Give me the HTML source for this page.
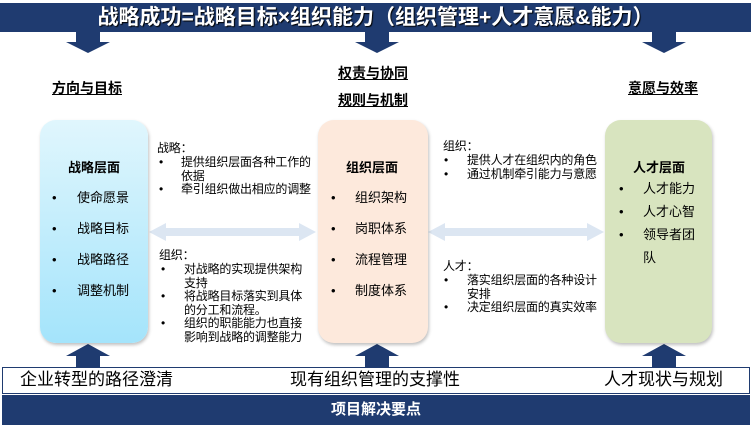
<!DOCTYPE html>
<html><head><meta charset="utf-8"><style>
body{margin:0;width:754px;height:429px;background:#fff;position:relative;overflow:hidden;font-family:"Liberation Sans","Noto Sans CJK SC",sans-serif;color:#000}
.a{position:absolute;white-space:nowrap}
.box{position:absolute;top:120px;height:223px;border-radius:16px;box-shadow:1px 2px 3px rgba(0,0,0,.25)}
.t{font-size:12px;line-height:13.5px;letter-spacing:-0.2px}
.b{font-size:13px}
.u{font-weight:bold;text-decoration:underline;font-size:14px}
</style></head><body>
<div class="a" style="left:0;top:3px;width:751px;height:29px;background:#1f3b70;color:#fff;font-weight:bold;font-size:21px;line-height:29px;text-align:center;text-shadow:1px 1px 1px #000">战略成功=战略目标×组织能力（组织管理+人才意愿&amp;能力）</div>
<svg class="a" style="left:0;top:0" width="754" height="429">
<g fill="#1f3b70">
<polygon points="76,32 100,32 100,42 110,42 88,53 66,42 76,42"/>
<polygon points="365,32 389,32 389,42 399,42 377,53 355,42 365,42"/>
<polygon points="652,32 676,32 676,42 686,42 664,53 642,42 652,42"/>
<polygon points="76,367 100,367 100,356 110,356 88,344 66,356 76,356"/>
<polygon points="365,367 389,367 389,356 399,356 377,344 355,356 365,356"/>
<polygon points="652,367 676,367 676,356 686,356 664,344 642,356 652,356"/>
</g>
<g fill="#dce6f2">
<polygon points="149,232 166,223 166,228 299,228 299,223 316,232 299,241 299,236 166,236 166,241"/>
<polygon points="428,232 445,223 445,228 587,228 587,223 604,232 587,241 587,236 445,236 445,241"/>
</g>
</svg>
<div class="a u" style="left:52px;top:78px">方向与目标</div>
<div class="a u" style="left:338px;top:63px">权责与协同</div>
<div class="a u" style="left:338px;top:90px">规则与机制</div>
<div class="a u" style="left:628px;top:78px">意愿与效率</div>

<div class="box" style="left:40px;width:108px;background:linear-gradient(#e0f6fd,#a4e4fb)"></div>
<div class="box" style="left:318px;width:110px;background:#fde9dc"></div>
<div class="box" style="left:605px;width:107px;background:#d8e4bf"></div>

<div class="a b" style="left:68px;top:157px;font-weight:bold">战略层面</div>
<div class="a b" style="left:52px;top:182px;line-height:31px">•<br>•<br>•<br>•</div>
<div class="a b" style="left:77px;top:182px;line-height:31px">使命愿景<br>战略目标<br>战略路径<br>调整机制</div>

<div class="a b" style="left:346px;top:157px;font-weight:bold">组织层面</div>
<div class="a b" style="left:331px;top:182px;line-height:31px">•<br>•<br>•<br>•</div>
<div class="a b" style="left:355px;top:182px;line-height:31px">组织架构<br>岗职体系<br>流程管理<br>制度体系</div>

<div class="a b" style="left:633px;top:157px;font-weight:bold">人才层面</div>
<div class="a b" style="left:619px;top:177px;line-height:23px">•<br>•<br>•</div>
<div class="a b" style="left:643px;top:177px;line-height:23px">人才能力<br>人才心智<br>领导者团<br>队</div>

<div class="a t" style="left:157px;top:142px">战略：</div>
<div class="a t" style="left:159px;top:156px">•<br><br>•</div>
<div class="a t" style="left:181px;top:156px">提供组织层面各种工作的<br>依据<br>牵引组织做出相应的调整</div>

<div class="a t" style="left:159px;top:249px">组织：</div>
<div class="a t" style="left:161px;top:263px">•<br><br>•<br><br>•</div>
<div class="a t" style="left:184px;top:263px">对战略的实现提供架构<br>支持<br>将战略目标落实到具体<br>的分工和流程。<br>组织的职能能力也直接<br>影响到战略的调整能力</div>

<div class="a t" style="left:443px;top:140px">组织：</div>
<div class="a t" style="left:444px;top:154px">•<br>•</div>
<div class="a t" style="left:467px;top:154px">提供人才在组织内的角色<br>通过机制牵引能力与意愿</div>

<div class="a t" style="left:443px;top:260px">人才：</div>
<div class="a t" style="left:444px;top:274px">•<br><br>•</div>
<div class="a t" style="left:467px;top:274px">落实组织层面的各种设计<br>安排<br>决定组织层面的真实效率</div>

<div class="a" style="left:2px;top:367px;width:746px;height:25px;border:1px solid #1f3b70;background:#fff"></div>
<div class="a" style="left:20px;top:369px;font-size:17px;line-height:22px">企业转型的路径澄清</div>
<div class="a" style="left:290px;top:369px;font-size:17px;line-height:22px">现有组织管理的支撑性</div>
<div class="a" style="left:604px;top:369px;font-size:17px;line-height:22px">人才现状与规划</div>
<div class="a" style="left:2px;top:395px;width:748px;height:30px;background:#1f3b70;color:#fff;font-weight:bold;font-size:15px;line-height:30px;text-align:center">项目解决要点</div>
</body></html>
